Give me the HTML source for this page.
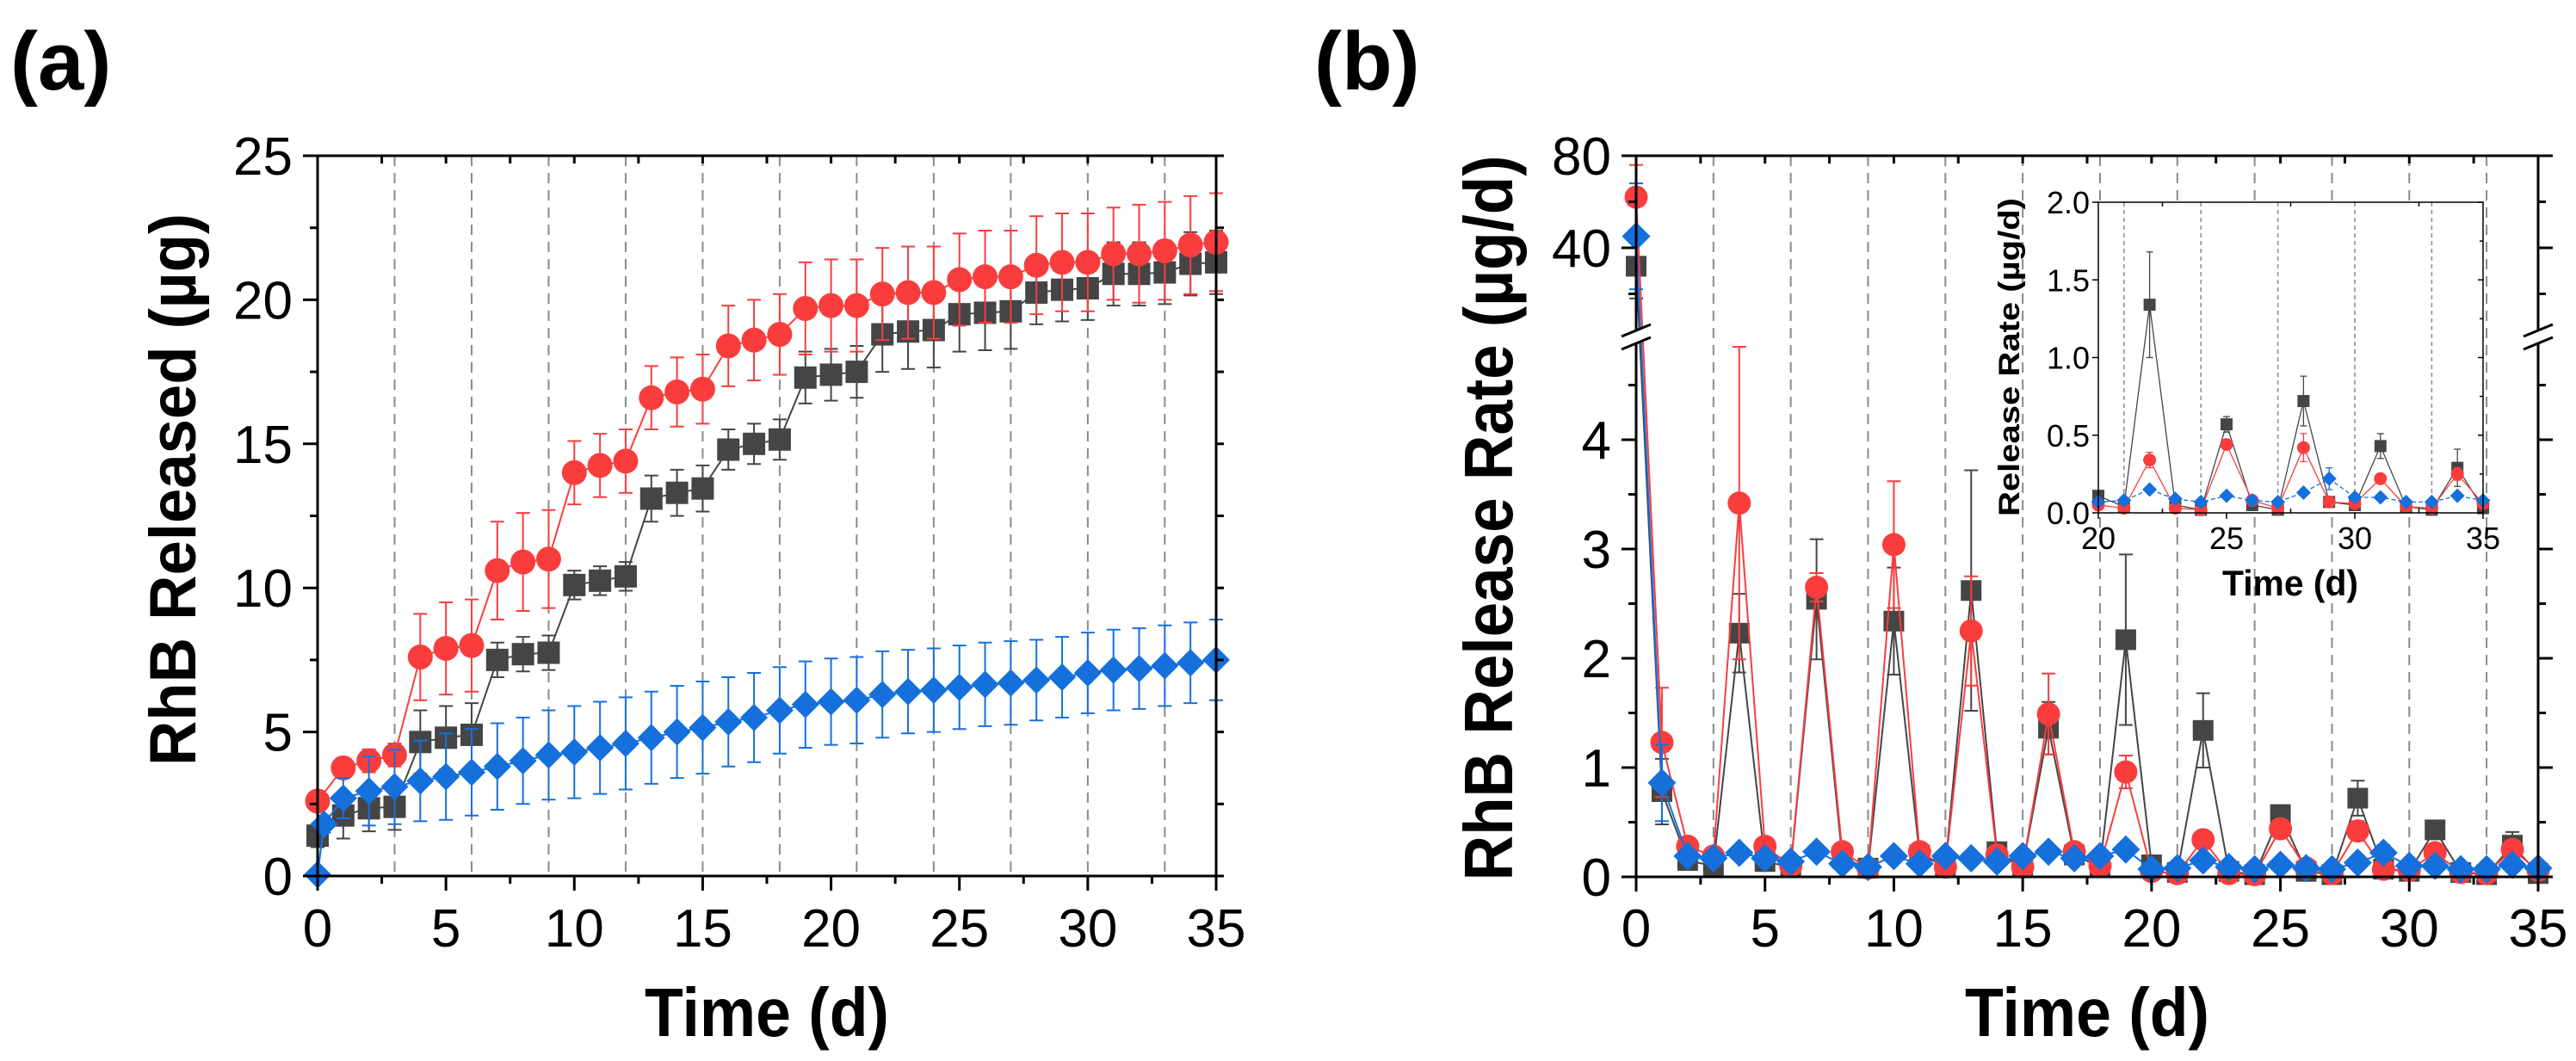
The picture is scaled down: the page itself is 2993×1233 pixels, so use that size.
<!DOCTYPE html>
<html><head><meta charset="utf-8">
<style>
html,body{margin:0;padding:0;background:#fff;}
svg{display:block;font-family:"Liberation Sans",Arial,sans-serif;}
</style></head>
<body>
<svg id="fig" width="2993" height="1233" viewBox="0 0 2993 1233" xmlns="http://www.w3.org/2000/svg">
<rect width="2993" height="1233" fill="#fff"/>
<text x="12" y="104" font-size="96" font-weight="bold">(a)</text>
<text x="1527" y="104" font-size="96" font-weight="bold">(b)</text>
<text transform="translate(227,569) rotate(-90)" text-anchor="middle" font-size="76" font-weight="bold" textLength="642" lengthAdjust="spacingAndGlyphs">RhB Released (µg)</text>
<text x="891" y="1204" text-anchor="middle" font-size="80" font-weight="bold" textLength="284" lengthAdjust="spacingAndGlyphs">Time (d)</text>
<text transform="translate(1757,602) rotate(-90)" text-anchor="middle" font-size="80" font-weight="bold" textLength="843" lengthAdjust="spacingAndGlyphs">RhB Release Rate (µg/d)</text>
<text x="2425" y="1204" text-anchor="middle" font-size="80" font-weight="bold" textLength="284" lengthAdjust="spacingAndGlyphs">Time (d)</text>
<g id="pa"></g>
<g id="pb"></g>
<g id="pi"></g>
</svg>
<script>
// ---- Panel (a) data: cumulative RhB released (µg)
const daysA = [0,1,2,3,4,5,6,7,8,9,10,11,12,13,14,15,16,17,18,19,20,21,22,23,24,25,26,27,28,29,30,31,32,33,34,35];
const redA = [2.6,3.75,4.0,4.2,7.6,7.9,8.0,10.6,10.9,11.0,14.0,14.25,14.4,16.6,16.8,16.9,18.4,18.6,18.8,19.7,19.8,19.8,20.2,20.25,20.25,20.7,20.8,20.8,21.2,21.3,21.3,21.6,21.6,21.7,21.9,22.0];
const redAErr = [0.3,0.3,0.4,0.4,1.5,1.6,1.6,1.7,1.7,1.7,1.1,1.1,1.1,1.1,1.2,1.2,1.4,1.4,1.4,1.6,1.6,1.6,1.6,1.6,1.6,1.6,1.6,1.6,1.7,1.7,1.7,1.6,1.7,1.7,1.7,1.7];
const blackA = [1.4,2.1,2.35,2.4,4.65,4.8,4.9,7.5,7.7,7.75,10.1,10.25,10.4,13.1,13.3,13.45,14.8,15.0,15.15,17.3,17.4,17.5,18.8,18.9,18.95,19.5,19.55,19.6,20.25,20.35,20.4,20.9,20.9,20.95,21.25,21.3];
const blackAErr = [0.4,0.8,0.8,0.8,1.1,1.1,1.1,0.6,0.6,0.6,0.5,0.5,0.5,0.8,0.8,0.8,0.7,0.7,0.7,0.9,0.9,0.9,1.3,1.3,1.3,1.3,1.3,1.3,1.1,1.1,1.1,1.1,1.1,1.1,1.1,1.1];
const daysBlueA = [0,0.25,1,2,3,4,5,6,7,8,9,10,11,12,13,14,15,16,17,18,19,20,21,22,23,24,25,26,27,28,29,30,31,32,33,34,35];
const blueA = [0.05,1.8,2.7,2.95,3.1,3.3,3.45,3.6,3.8,4.0,4.2,4.3,4.45,4.6,4.8,5.0,5.15,5.35,5.5,5.75,5.95,6.05,6.1,6.3,6.4,6.45,6.55,6.65,6.7,6.8,6.9,7.05,7.15,7.2,7.3,7.4,7.5];
const blueAErr = [0,0.3,0.7,1.2,1.3,1.4,1.5,1.5,1.5,1.5,1.55,1.6,1.6,1.6,1.6,1.6,1.6,1.55,1.55,1.5,1.5,1.5,1.5,1.5,1.45,1.45,1.45,1.45,1.45,1.4,1.4,1.4,1.4,1.4,1.4,1.4,1.4];
const ticksAX = [0,5,10,15,20,25,30,35];
const ticksAY = [0,5,10,15,20,25];
const dashDays = [3,6,9,12,15,18,21,24,27,30,33];
// ---- Panel (b) data: release rate (µg/d)
const daysB = [0,1,2,3,4,5,6,7,8,9,10,11,12,13,14,15,16,17,18,19,20,21,22,23,24,25,26,27,28,29,30,31,32,33,34,35];
const redB = [62,1.23,0.28,0.19,3.42,0.28,0.1,2.65,0.23,0.08,3.04,0.23,0.09,2.25,0.2,0.09,1.49,0.23,0.1,0.96,0.05,0.03,0.34,0.03,0.02,0.44,0.08,0.03,0.42,0.07,0.06,0.22,0.04,0.03,0.25,0.06];
const redBErr = [14,0.5,0.05,0.05,1.43,0.05,0.05,0.13,0.05,0.03,0.58,0.05,0.03,0.5,0.05,0.03,0.37,0.05,0.03,0.15,0.02,0.02,0.05,0.02,0.01,0.03,0.02,0.01,0.09,0.02,0.02,0.02,0.01,0.01,0.04,0.02];
const blackB = [32,0.78,0.15,0.1,2.23,0.14,0.09,2.54,0.17,0.08,2.34,0.2,0.1,2.62,0.23,0.09,1.36,0.2,0.09,2.17,0.11,0.04,1.34,0.05,0.02,0.57,0.05,0.02,0.72,0.07,0.05,0.43,0.04,0.02,0.29,0.03];
const blackBErr = [14.7,0.3,0.04,0.04,0.36,0.04,0.03,0.55,0.04,0.03,0.49,0.04,0.03,1.1,0.04,0.03,0.24,0.04,0.03,0.78,0.02,0.02,0.34,0.02,0.01,0.05,0.02,0.01,0.16,0.02,0.02,0.08,0.01,0.01,0.12,0.01];
const blueB = [45,0.86,0.19,0.17,0.22,0.17,0.14,0.23,0.12,0.09,0.19,0.12,0.19,0.17,0.14,0.19,0.23,0.17,0.19,0.25,0.07,0.08,0.15,0.09,0.07,0.11,0.08,0.07,0.13,0.22,0.1,0.1,0.07,0.07,0.11,0.08];
const blueBErr = [23,0.35,0.05,0.04,0.04,0.03,0.03,0.03,0.03,0.02,0.03,0.02,0.03,0.02,0.02,0.02,0.03,0.02,0.02,0.03,0.02,0.02,0.02,0.02,0.02,0.02,0.02,0.02,0.02,0.07,0.02,0.02,0.02,0.02,0.02,0.02];
const ticksBX = [0,5,10,15,20,25,30,35];
const ticksBYLow = [0,1,2,3,4];
const ticksBYHigh = [40,80];
const ticksIX = [20,25,30,35];
const ticksIY = ["0.0","0.5","1.0","1.5","2.0"];

const NS = "http://www.w3.org/2000/svg";
const RED = "#f93d3d", BLK = "#454545", BLU = "#1570dc";
function mk(parent, tag, attrs){ const e = document.createElementNS(NS, tag); for (const k in attrs) e.setAttribute(k, attrs[k]); parent.appendChild(e); return e; }

// ---- axis functions
const ax = { x0:369, x1:1413, y0:1018, y1:181, xmax:35, ymax:25 };
const aX = d => ax.x0 + d/ax.xmax*(ax.x1-ax.x0);
const aY = v => ax.y0 - v/ax.ymax*(ax.y0-ax.y1);
const bx = { x0:1901, x1:2949, y0:1019, ytop:181 };
const bX = d => bx.x0 + d/35*(bx.x1-bx.x0);
const bY = v => v < 10 ? 1019 - v*127 : 288 - (v-40)*2.675;
const ix = { x0:2438, x1:2885, y0:596, y1:235 };
const iX = d => ix.x0 + (d-20)/15*(ix.x1-ix.x0);
const iY = v => ix.y0 - v/2*(ix.y0-ix.y1);

function marker(g, shape, x, y, s, color){
  let m;
  if (shape==='circle') m = mk(g,'circle',{cx:x,cy:y,r:s/2,fill:color});
  else if (shape==='square') m = mk(g,'rect',{x:x-s/2,y:y-s/2,width:s,height:s,fill:color});
  else m = mk(g,'polygon',{points:`${x},${y-s/2} ${x+s/2},${y} ${x},${y+s/2} ${x-s/2},${y}`,fill:color});
  return m;
}
function series(parent, name, xs, vs, errs, X, Y, color, shape, size, lw, cap, dash, broken){
  const g = mk(parent,'g',{});
  
  
  const pts = xs.map((d,i)=>`${X(d).toFixed(1)},${Y(vs[i]).toFixed(1)}`).join(' ');
  const ln = mk(g,'polyline',{points:pts,fill:'none',stroke:color,'stroke-width':lw});
  if (dash) ln.setAttribute('stroke-dasharray', dash);
  
  
  xs.forEach((d,i)=>{
    let lo = vs[i]-errs[i];
    if (broken && vs[i] >= 10) lo = Math.max(lo, 18);
    if (lo < 0) lo = 0;
    const x = X(d), yt = Y(vs[i]+errs[i]), yb = Y(lo);
    if (errs[i] > 0){
      mk(g,'line',{x1:x,y1:yt,x2:x,y2:yb,stroke:color,'stroke-width':lw});
      mk(g,'line',{x1:x-cap,y1:yt,x2:x+cap,y2:yt,stroke:color,'stroke-width':lw});
      mk(g,'line',{x1:x-cap,y1:yb,x2:x+cap,y2:yb,stroke:color,'stroke-width':lw});
    }
    const m = marker(g, shape, x, Y(vs[i]), size, color);
    
    
  });
}
function text(g, x, y, s, fs, anchor, name){
  const t = mk(g,'text',{x:x,y:y,'font-size':fs,'text-anchor':anchor});
  t.textContent = s;
  
  
  return t;
}

// ================= Panel A =================
const pa = document.getElementById('pa');
dashDays.forEach(d=>{
  const l = mk(pa,'line',{x1:aX(d),y1:ax.y1,x2:aX(d),y2:ax.y0,stroke:'#8a8a8a','stroke-width':2,'stroke-dasharray':'12 8'});
  
  
});
series(pa,'a-series-black',daysA,blackA,blackAErr,aX,aY,BLK,'square',26,2,8);
series(pa,'a-series-red',daysA,redA,redAErr,aX,aY,RED,'circle',29,2,8);
series(pa,'a-series-blue',daysBlueA,blueA,blueAErr,aX,aY,BLU,'diamond',32,2,8);
mk(pa,'rect',{x:ax.x0,y:ax.y1,width:ax.x1-ax.x0,height:ax.y0-ax.y1,fill:'none',stroke:'#000','stroke-width':3});
ticksAX.forEach(d=>{
  mk(pa,'line',{x1:aX(d),y1:ax.y0,x2:aX(d),y2:ax.y0+17,stroke:'#000','stroke-width':3});
  mk(pa,'line',{x1:aX(d),y1:ax.y1,x2:aX(d),y2:ax.y1+9,stroke:'#000','stroke-width':3});
  text(pa,aX(d),1100,String(d),62,'middle','a-x-tick-label');
  if (d<35){ mk(pa,'line',{x1:aX(d+2.5),y1:ax.y0,x2:aX(d+2.5),y2:ax.y0+9,stroke:'#000','stroke-width':3});
             mk(pa,'line',{x1:aX(d+2.5),y1:ax.y1,x2:aX(d+2.5),y2:ax.y1+9,stroke:'#000','stroke-width':3}); }
});
ticksAY.forEach(v=>{
  mk(pa,'line',{x1:ax.x0-17,y1:aY(v),x2:ax.x0,y2:aY(v),stroke:'#000','stroke-width':3});
  mk(pa,'line',{x1:ax.x1,y1:aY(v),x2:ax.x1+9,y2:aY(v),stroke:'#000','stroke-width':3});
  text(pa,340,aY(v)+22,String(v),62,'end','a-y-tick-label');
  if (v<25){ mk(pa,'line',{x1:ax.x0-9,y1:aY(v+2.5),x2:ax.x0,y2:aY(v+2.5),stroke:'#000','stroke-width':3});
             mk(pa,'line',{x1:ax.x1,y1:aY(v+2.5),x2:ax.x1+9,y2:aY(v+2.5),stroke:'#000','stroke-width':3}); }
});

// ================= Panel B =================
const pb = document.getElementById('pb');
dashDays.forEach(d=>{
  const l = mk(pb,'line',{x1:bX(d),y1:bx.ytop,x2:bX(d),y2:bx.y0,stroke:'#8a8a8a','stroke-width':2,'stroke-dasharray':'12 8'});
  
  
});
series(pb,'b-series-black',daysB,blackB,blackBErr,bX,bY,BLK,'square',24,2,8,null,true);
series(pb,'b-series-red',daysB,redB,redBErr,bX,bY,RED,'circle',27,2,8,null,true);
series(pb,'b-series-blue',daysB,blueB,blueBErr,bX,bY,BLU,'diamond',33,2,8,null,true);
mk(pb,'rect',{x:bx.x0,y:bx.ytop,width:bx.x1-bx.x0,height:bx.y0-bx.ytop,fill:'none',stroke:'#000','stroke-width':3});
ticksBX.forEach(d=>{
  mk(pb,'line',{x1:bX(d),y1:bx.y0,x2:bX(d),y2:bx.y0+17,stroke:'#000','stroke-width':3});
  mk(pb,'line',{x1:bX(d),y1:bx.ytop,x2:bX(d),y2:bx.ytop+9,stroke:'#000','stroke-width':3});
  text(pb,bX(d),1100,String(d),62,'middle','b-x-tick-label');
  if (d<35){ mk(pb,'line',{x1:bX(d+2.5),y1:bx.y0,x2:bX(d+2.5),y2:bx.y0+9,stroke:'#000','stroke-width':3});
             mk(pb,'line',{x1:bX(d+2.5),y1:bx.ytop,x2:bX(d+2.5),y2:bx.ytop+9,stroke:'#000','stroke-width':3}); }
});
ticksBYLow.forEach(v=>{
  mk(pb,'line',{x1:bx.x0-17,y1:bY(v),x2:bx.x0,y2:bY(v),stroke:'#000','stroke-width':3});
  mk(pb,'line',{x1:bx.x1,y1:bY(v),x2:bx.x1+17,y2:bY(v),stroke:'#000','stroke-width':3});
  text(pb,1872,bY(v)+22,String(v),62,'end','b-y-tick-label');
  mk(pb,'line',{x1:bx.x0-9,y1:bY(v+0.5),x2:bx.x0,y2:bY(v+0.5),stroke:'#000','stroke-width':3});
  mk(pb,'line',{x1:bx.x1,y1:bY(v+0.5),x2:bx.x1+9,y2:bY(v+0.5),stroke:'#000','stroke-width':3});
});
ticksBYHigh.forEach(v=>{
  mk(pb,'line',{x1:bx.x0-17,y1:bY(v),x2:bx.x0,y2:bY(v),stroke:'#000','stroke-width':3});
  mk(pb,'line',{x1:bx.x1,y1:bY(v),x2:bx.x1+17,y2:bY(v),stroke:'#000','stroke-width':3});
  text(pb,1872,bY(v)+22,String(v),62,'end','b-y-tick-label');
  mk(pb,'line',{x1:bx.x0-9,y1:bY(v-20),x2:bx.x0,y2:bY(v-20),stroke:'#000','stroke-width':3});
  mk(pb,'line',{x1:bx.x1,y1:bY(v-20),x2:bx.x1+9,y2:bY(v-20),stroke:'#000','stroke-width':3});
});
[bx.x0, bx.x1].forEach((x,k)=>{
  const g = mk(pb,'g',{});
  
  
  mk(g,'polygon',{points:`${x-17},${391} ${x+17},${377} ${x+17},${392} ${x-17},${406}`,fill:'#fff'});
  mk(g,'line',{x1:x-17,y1:391,x2:x+17,y2:377,stroke:'#000','stroke-width':3});
  mk(g,'line',{x1:x-17,y1:406,x2:x+17,y2:392,stroke:'#000','stroke-width':3});
});

// ================= Inset =================
const pi = document.getElementById('pi');
mk(pi,'rect',{x:ix.x0,y:ix.y1,width:ix.x1-ix.x0,height:ix.y0-ix.y1,fill:'#fff'});
dashDays.filter(d=>d>20).forEach(d=>{
  const l = mk(pi,'line',{x1:iX(d),y1:ix.y1,x2:iX(d),y2:ix.y0,stroke:'#8a8a8a','stroke-width':1.5,'stroke-dasharray':'5 4'});
  
  
});
const idx = daysB.map((d,i)=>i).filter(i=>daysB[i]>=20);
const sel = a => idx.map(i=>a[i]);
series(pi,'inset-series-black',sel(daysB),sel(blackB),sel(blackBErr),iX,iY,BLK,'square',14,1.3,4);
series(pi,'inset-series-red',sel(daysB),sel(redB),sel(redBErr),iX,iY,RED,'circle',15,1.3,4);
series(pi,'inset-series-blue',sel(daysB),sel(blueB),sel(blueBErr),iX,iY,BLU,'diamond',17,1.3,4,'5 3');
mk(pi,'rect',{x:ix.x0,y:ix.y1,width:ix.x1-ix.x0,height:ix.y0-ix.y1,fill:'none',stroke:'#000','stroke-width':1.5});
ticksIX.forEach(d=>{
  mk(pi,'line',{x1:iX(d),y1:ix.y0,x2:iX(d),y2:ix.y0+7,stroke:'#000','stroke-width':1.5});
  text(pi,iX(d),638,String(d),36,'middle','inset-x-tick-label');
  if (d<35){ mk(pi,'line',{x1:iX(d+2.5),y1:ix.y0,x2:iX(d+2.5),y2:ix.y0-5,stroke:'#000','stroke-width':1.5});
             mk(pi,'line',{x1:iX(d+2.5),y1:ix.y1,x2:iX(d+2.5),y2:ix.y1+5,stroke:'#000','stroke-width':1.5}); }
});
ticksIY.forEach(s=>{
  const v = parseFloat(s);
  mk(pi,'line',{x1:ix.x0-7,y1:iY(v),x2:ix.x0,y2:iY(v),stroke:'#000','stroke-width':1.5});
  mk(pi,'line',{x1:ix.x1,y1:iY(v),x2:ix.x1-6,y2:iY(v),stroke:'#000','stroke-width':1.5});
  text(pi,2428,iY(v)+13,s,36,'end','inset-y-tick-label');
  if (v<2){ mk(pi,'line',{x1:ix.x1,y1:iY(v+0.25),x2:ix.x1-4,y2:iY(v+0.25),stroke:'#000','stroke-width':1.5}); }
});
const it = mk(pi,'text',{transform:'translate(2346,415) rotate(-90)','text-anchor':'middle','font-size':34,'font-weight':'bold',textLength:370,lengthAdjust:'spacingAndGlyphs'});
it.textContent = 'Release Rate (µg/d)';


const ixt = mk(pi,'text',{x:2661,y:692,'text-anchor':'middle','font-size':42,'font-weight':'bold',textLength:158,lengthAdjust:'spacingAndGlyphs'});
ixt.textContent = 'Time (d)';


</script>
</body></html>
